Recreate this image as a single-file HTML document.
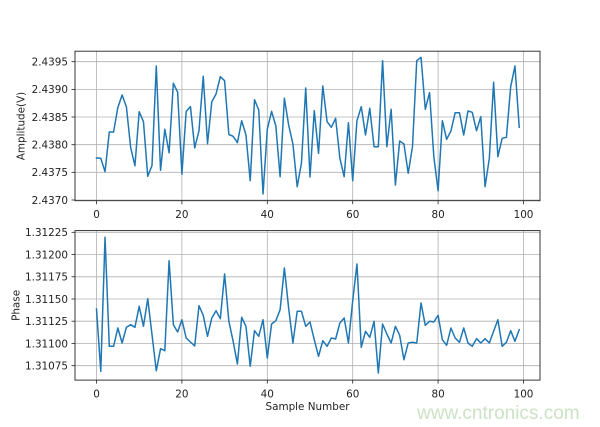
<!DOCTYPE html>
<html>
<head>
<meta charset="utf-8">
<style>
  html, body { margin: 0; padding: 0; background: #ffffff; }
  body { width: 600px; height: 427px; overflow: hidden; }
  svg { display: block; }
  text { font-family: "DejaVu Sans", "Liberation Sans", sans-serif; fill: #222; }
</style>
</head>
<body>
<svg width="600" height="427" viewBox="0 0 600 427" xmlns="http://www.w3.org/2000/svg">
  <rect x="0" y="0" width="600" height="427" fill="#ffffff"/>

  <!-- ============ TOP AXES ============ -->
  <g stroke="#b0b0b0" stroke-width="0.8" fill="none">
    <line x1="96.5" y1="51.2" x2="96.5" y2="200.7"/>
    <line x1="181.9" y1="51.2" x2="181.9" y2="200.7"/>
    <line x1="267.3" y1="51.2" x2="267.3" y2="200.7"/>
    <line x1="352.7" y1="51.2" x2="352.7" y2="200.7"/>
    <line x1="438.1" y1="51.2" x2="438.1" y2="200.7"/>
    <line x1="523.5" y1="51.2" x2="523.5" y2="200.7"/>
    <line x1="75" y1="200.0" x2="540" y2="200.0"/>
    <line x1="75" y1="172.3" x2="540" y2="172.3"/>
    <line x1="75" y1="144.7" x2="540" y2="144.7"/>
    <line x1="75" y1="117.0" x2="540" y2="117.0"/>
    <line x1="75" y1="89.4" x2="540" y2="89.4"/>
    <line x1="75" y1="61.7" x2="540" y2="61.7"/>
  </g>

  <polyline fill="none" stroke="#1f77b4" stroke-width="1.5" stroke-linejoin="round" stroke-linecap="square"
    vector-effect="non-scaling-stroke" transform="translate(96.5,0) scale(4.27,1)"
    points="0,158 1,158.3 2,171.7 3,132 4,132 5,107.5 6,95 7,106.7 8,147.5 9,165.7 10,111.7 11,121.7 12,176.3 13,165.5 14,66 15,170.3 16,129.2 17,152.7 18,83.3 19,92.2 20,174.2 21,111.5 22,106.5 23,148 24,130.7 25,76.3 26,143.7 27,101.7 28,94 29,76.7 30,80.7 31,134.5 32,136.3 33,142.7 34,120.7 35,135 36,180.7 37,99.7 38,110 39,194 40,129.3 41,111.3 42,126 43,176.7 44,98.3 45,125 46,144 47,186.7 48,163 49,88 50,177 51,110.7 52,153.3 53,86 54,121.7 55,127.3 56,118.3 57,158.3 58,176.7 59,122.7 60,180.7 61,120.7 62,106.7 63,135 64,108.3 65,146.7 66,146.7 67,60.7 68,146.7 69,109.3 70,185 71,141 72,144 73,173.3 74,146.7 75,60.7 76,57.3 77,109.3 78,92.7 79,156.7 80,190.7 81,120.7 82,139.3 83,131 84,112.7 85,112.7 86,135 87,111 88,112.3 89,130.7 90,116.7 91,186.7 92,158.3 93,82.3 94,156.7 95,138.3 96,137.3 97,86.7 98,66 99,127.3"/>

  <rect x="75" y="51.2" width="465" height="149.5" fill="none" stroke="#222" stroke-width="0.9"/>

  <!-- ticks top -->
  <g stroke="#222" stroke-width="0.8">
    <line x1="96.5" y1="200.7" x2="96.5" y2="204.2"/>
    <line x1="181.9" y1="200.7" x2="181.9" y2="204.2"/>
    <line x1="267.3" y1="200.7" x2="267.3" y2="204.2"/>
    <line x1="352.7" y1="200.7" x2="352.7" y2="204.2"/>
    <line x1="438.1" y1="200.7" x2="438.1" y2="204.2"/>
    <line x1="523.5" y1="200.7" x2="523.5" y2="204.2"/>
    <line x1="71.5" y1="200.0" x2="75" y2="200.0"/>
    <line x1="71.5" y1="172.3" x2="75" y2="172.3"/>
    <line x1="71.5" y1="144.7" x2="75" y2="144.7"/>
    <line x1="71.5" y1="117.0" x2="75" y2="117.0"/>
    <line x1="71.5" y1="89.4" x2="75" y2="89.4"/>
    <line x1="71.5" y1="61.7" x2="75" y2="61.7"/>
  </g>
  <g font-size="10.4" text-anchor="middle">
    <text x="96.5" y="217.8">0</text>
    <text x="181.9" y="217.8">20</text>
    <text x="267.3" y="217.8">40</text>
    <text x="352.7" y="217.8">60</text>
    <text x="438.1" y="217.8">80</text>
    <text x="523.5" y="217.8">100</text>
  </g>
  <g font-size="10.4" text-anchor="end">
    <text x="68" y="203.8">2.4370</text>
    <text x="68" y="176.1">2.4375</text>
    <text x="68" y="148.5">2.4380</text>
    <text x="68" y="120.8">2.4385</text>
    <text x="68" y="93.2">2.4390</text>
    <text x="68" y="65.5">2.4395</text>
  </g>
  <text font-size="10.4" text-anchor="middle" transform="translate(24.6,126) rotate(-90)">Amplitude(V)</text>

  <!-- ============ BOTTOM AXES ============ -->
  <g stroke="#b0b0b0" stroke-width="0.8" fill="none">
    <line x1="96.5" y1="230.6" x2="96.5" y2="380.1"/>
    <line x1="181.9" y1="230.6" x2="181.9" y2="380.1"/>
    <line x1="267.3" y1="230.6" x2="267.3" y2="380.1"/>
    <line x1="352.7" y1="230.6" x2="352.7" y2="380.1"/>
    <line x1="438.1" y1="230.6" x2="438.1" y2="380.1"/>
    <line x1="523.5" y1="230.6" x2="523.5" y2="380.1"/>
    <line x1="75" y1="232.3" x2="540" y2="232.3"/>
    <line x1="75" y1="254.5" x2="540" y2="254.5"/>
    <line x1="75" y1="276.8" x2="540" y2="276.8"/>
    <line x1="75" y1="299.0" x2="540" y2="299.0"/>
    <line x1="75" y1="321.2" x2="540" y2="321.2"/>
    <line x1="75" y1="343.5" x2="540" y2="343.5"/>
    <line x1="75" y1="365.7" x2="540" y2="365.7"/>
  </g>

  <polyline fill="none" stroke="#1f77b4" stroke-width="1.5" stroke-linejoin="round" stroke-linecap="square"
    vector-effect="non-scaling-stroke" transform="translate(96.5,0) scale(4.27,1)"
    points="0,309 1,371.3 2,237.3 3,346.3 4,346.3 5,328 6,343 7,327.3 8,324.7 9,327.3 10,306.3 11,326.3 12,298.7 13,334.7 14,370.7 15,348.7 16,350.7 17,260.7 18,324.7 19,332 20,319.7 21,338 22,342 23,346 24,305.7 25,315.3 26,336.3 27,318 28,310.7 29,318.7 30,274 31,321.3 32,341.3 33,364 34,317.3 35,326.3 36,366.3 37,330.7 38,336.3 39,319.7 40,358 41,324 42,320.7 43,309.7 44,268 45,308 46,343 47,311.3 48,311.3 49,326.3 50,322 51,339.7 52,356.3 53,340.7 54,346.3 55,338 56,339 57,323 58,318 59,343 60,300.7 61,264 62,347.3 63,331.3 64,337.3 65,321.3 66,373 67,324 68,334 69,343 70,326.3 71,335.3 72,359.7 73,343 74,342.3 75,343 76,303 77,325.3 78,321.3 79,322 80,315.3 81,339.7 82,345.3 83,328 84,338 85,342.3 86,328 87,343 88,346.3 89,338.7 90,343 91,338.7 92,343 93,331.3 94,319.7 95,346.3 96,342.3 97,330.7 98,341.3 99,329.7"/>

  <rect x="75" y="230.6" width="465" height="149.5" fill="none" stroke="#222" stroke-width="0.9"/>

  <!-- ticks bottom -->
  <g stroke="#222" stroke-width="0.8">
    <line x1="96.5" y1="380.1" x2="96.5" y2="383.6"/>
    <line x1="181.9" y1="380.1" x2="181.9" y2="383.6"/>
    <line x1="267.3" y1="380.1" x2="267.3" y2="383.6"/>
    <line x1="352.7" y1="380.1" x2="352.7" y2="383.6"/>
    <line x1="438.1" y1="380.1" x2="438.1" y2="383.6"/>
    <line x1="523.5" y1="380.1" x2="523.5" y2="383.6"/>
    <line x1="71.5" y1="232.3" x2="75" y2="232.3"/>
    <line x1="71.5" y1="254.5" x2="75" y2="254.5"/>
    <line x1="71.5" y1="276.8" x2="75" y2="276.8"/>
    <line x1="71.5" y1="299.0" x2="75" y2="299.0"/>
    <line x1="71.5" y1="321.2" x2="75" y2="321.2"/>
    <line x1="71.5" y1="343.5" x2="75" y2="343.5"/>
    <line x1="71.5" y1="365.7" x2="75" y2="365.7"/>
  </g>
  <g font-size="10.4" text-anchor="middle">
    <text x="96.5" y="397.3">0</text>
    <text x="181.9" y="397.3">20</text>
    <text x="267.3" y="397.3">40</text>
    <text x="352.7" y="397.3">60</text>
    <text x="438.1" y="397.3">80</text>
    <text x="523.5" y="397.3">100</text>
  </g>
  <g font-size="10.4" text-anchor="end">
    <text x="68" y="236.1">1.31225</text>
    <text x="68" y="258.3">1.31200</text>
    <text x="68" y="280.6">1.31175</text>
    <text x="68" y="302.8">1.31150</text>
    <text x="68" y="325.0">1.31125</text>
    <text x="68" y="347.3">1.31100</text>
    <text x="68" y="369.5">1.31075</text>
  </g>
  <text font-size="10.4" text-anchor="middle" transform="translate(19.6,305.4) rotate(-90)">Phase</text>
  <text font-size="10.4" text-anchor="middle" x="307.5" y="410">Sample Number</text>

  <!-- watermark -->
  <text x="417" y="419" font-size="19" style="font-family:'Liberation Sans',sans-serif; fill:#cbe2c4;">www.cntronics.com</text>
</svg>
</body>
</html>
